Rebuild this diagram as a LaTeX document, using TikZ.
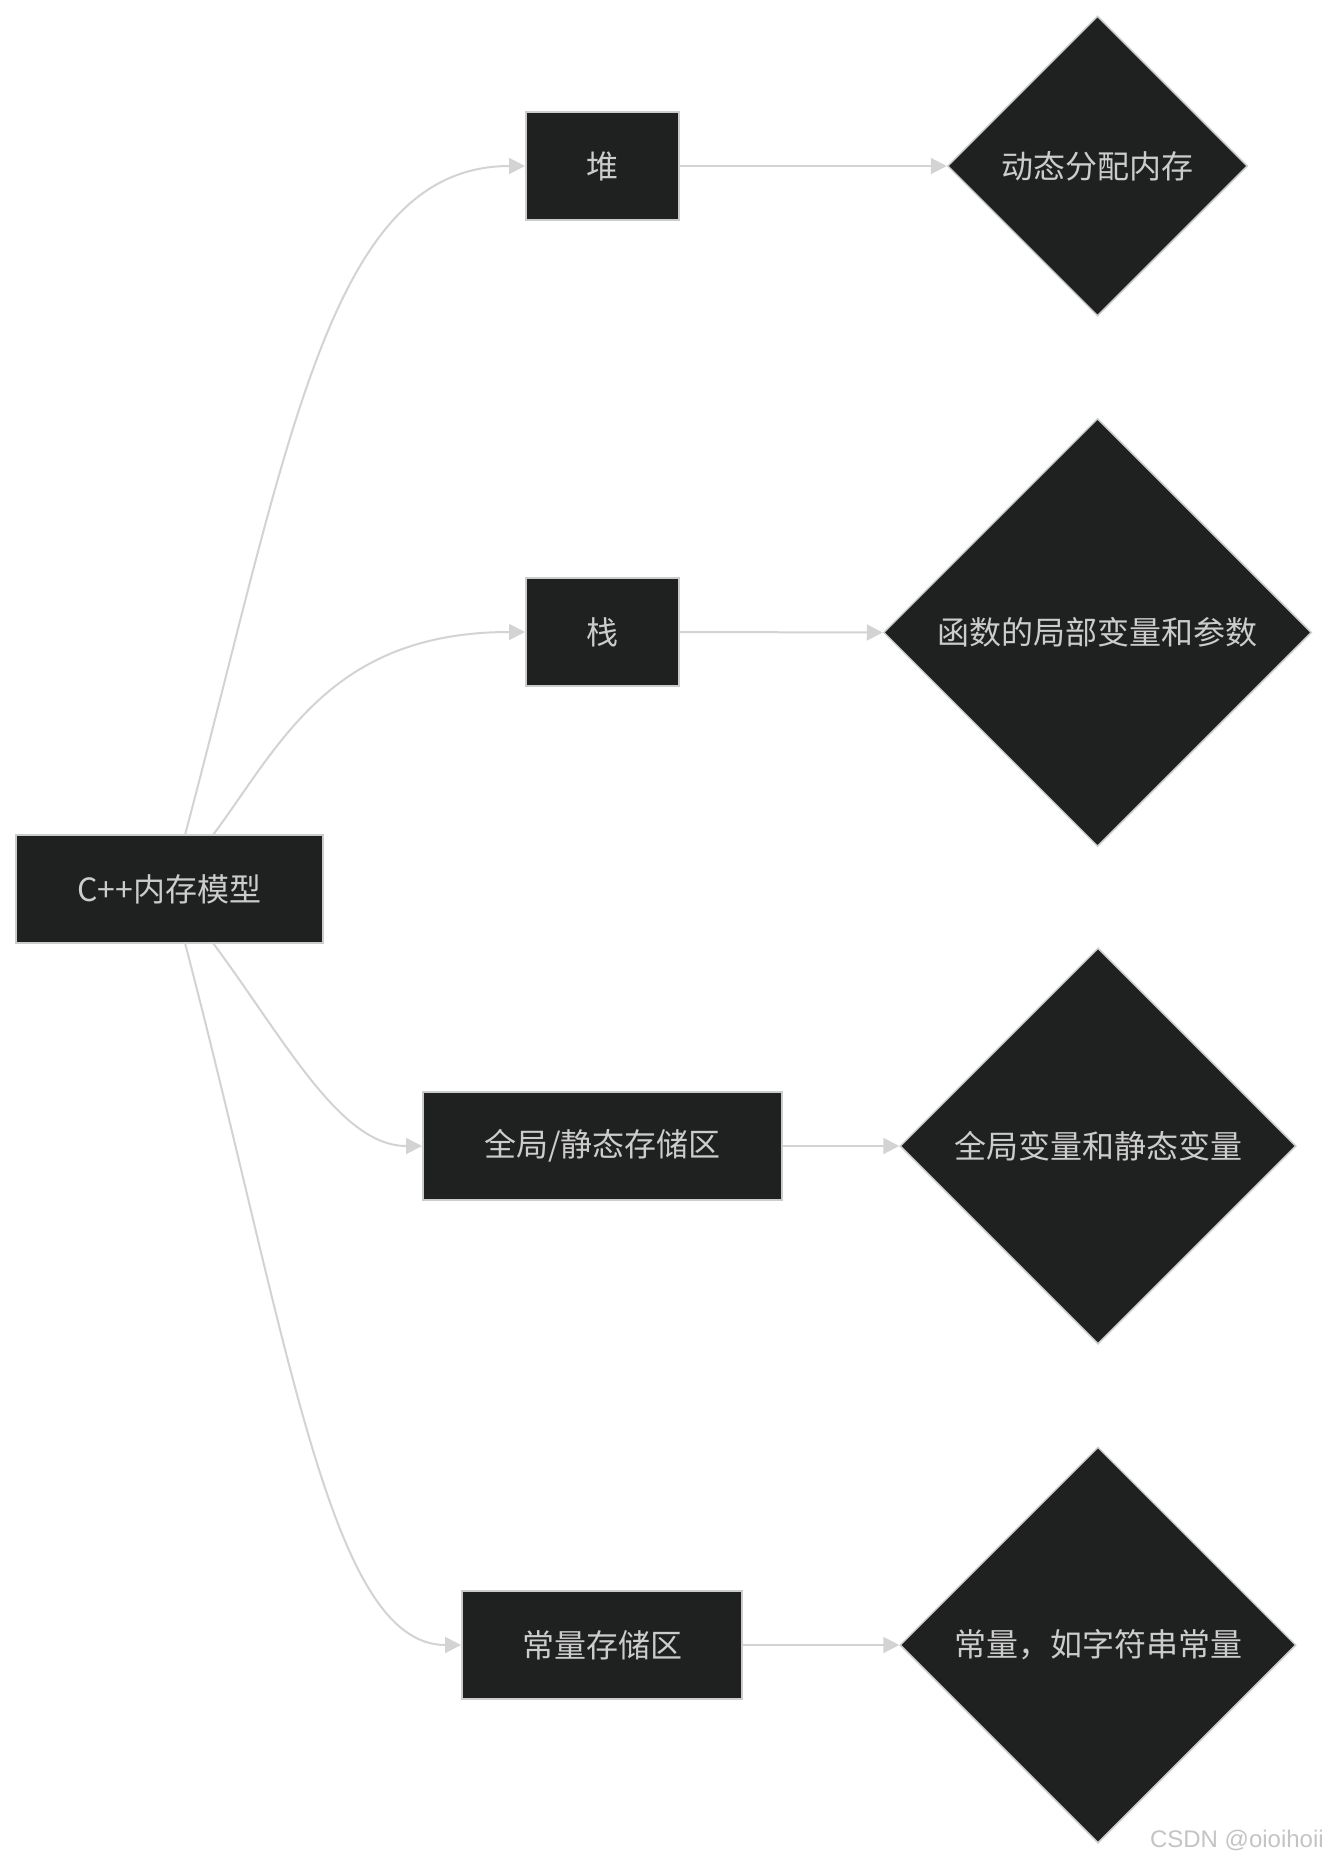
\documentclass[tikz,border=0pt]{standalone}
\usepackage{fontspec}
\setmainfont{Noto Sans CJK SC}
\newfontfamily\wmfont{Liberation Sans}
\usetikzlibrary{arrows.meta,shapes.geometric}
\definecolor{nodefill}{HTML}{1F2020}
\definecolor{nodeborder}{HTML}{CCCCCC}
\definecolor{nodetext}{HTML}{CCCCCC}
\definecolor{linkcol}{HTML}{D3D3D3}
\definecolor{wmcol}{HTML}{C4C4C4}
\begin{document}
\begin{tikzpicture}[x=1pt,y=-1pt,
  box/.style={draw=nodeborder, line width=2pt, fill=nodefill, text=nodetext,
    font=\fontsize{32}{37}\selectfont, inner sep=0pt, minimum height=108pt},
  dia/.style={shape=diamond, aspect=1, draw=nodeborder, line width=1.5pt, fill=nodefill,
    text=nodetext, font=\fontsize{32}{37}\selectfont, inner sep=0pt},
  link/.style={draw=linkcol, line width=2pt, -{Triangle[length=16pt,width=16pt]}},
]
\useasboundingbox (0,0) rectangle (1328,1860);
\fill[white] (0,0) rectangle (1328,1860);

% root
\node[box, minimum width=307pt] (root) at (169.5,889) {C++内存模型};

% level 1 boxes
\node[box, minimum width=153pt] (heap) at (602.5,166) {堆};
\node[box, minimum width=153pt] (stack) at (602.5,632) {栈};
\node[box, minimum width=359pt] (glob) at (602.5,1146) {全局/静态存储区};
\node[box, minimum width=280pt] (const) at (602,1645) {常量存储区};

% diamonds
\node[dia, minimum width=300pt, minimum height=300pt] (dheap) at (1097.5,166) {动态分配内存};
\node[dia, minimum width=428pt, minimum height=428pt] (dstack) at (1097.5,632.5) {函数的局部变量和参数};
\node[dia, minimum width=396pt, minimum height=396pt] (dglob) at (1098,1146) {全局变量和静态变量};
\node[dia, minimum width=396pt, minimum height=396pt] (dconst) at (1098,1645) {常量，如字符串常量};

% start points on root
\coordinate (r1) at (185,835);
\coordinate (r2) at (213,835);
\coordinate (r3) at (213,943);
\coordinate (r4) at (185,943);

% curved links
\draw[link] (r1) .. controls (290,440) and (330,166) .. (heap.west);
\draw[link] (r2) .. controls (280,745) and (330,632) .. (stack.west);
\draw[link] (r3) .. controls (285,1040) and (340,1146) .. (glob.west);
\draw[link] (r4) .. controls (290,1345) and (330,1645) .. (const.west);

% straight links
\draw[link] (heap.east) -- (dheap.west);
\draw[link] (stack.east) -- (dstack.west);
\draw[link] (glob.east) -- (dglob.west);
\draw[link] (const.east) -- (dconst.west);

% watermark
\node[anchor=base east, inner sep=0pt, text=wmcol, font=\wmfont\fontsize{24}{28}\selectfont] (wm) at (1324,1847) {CSDN @oioihoii};
\end{tikzpicture}
\end{document}
